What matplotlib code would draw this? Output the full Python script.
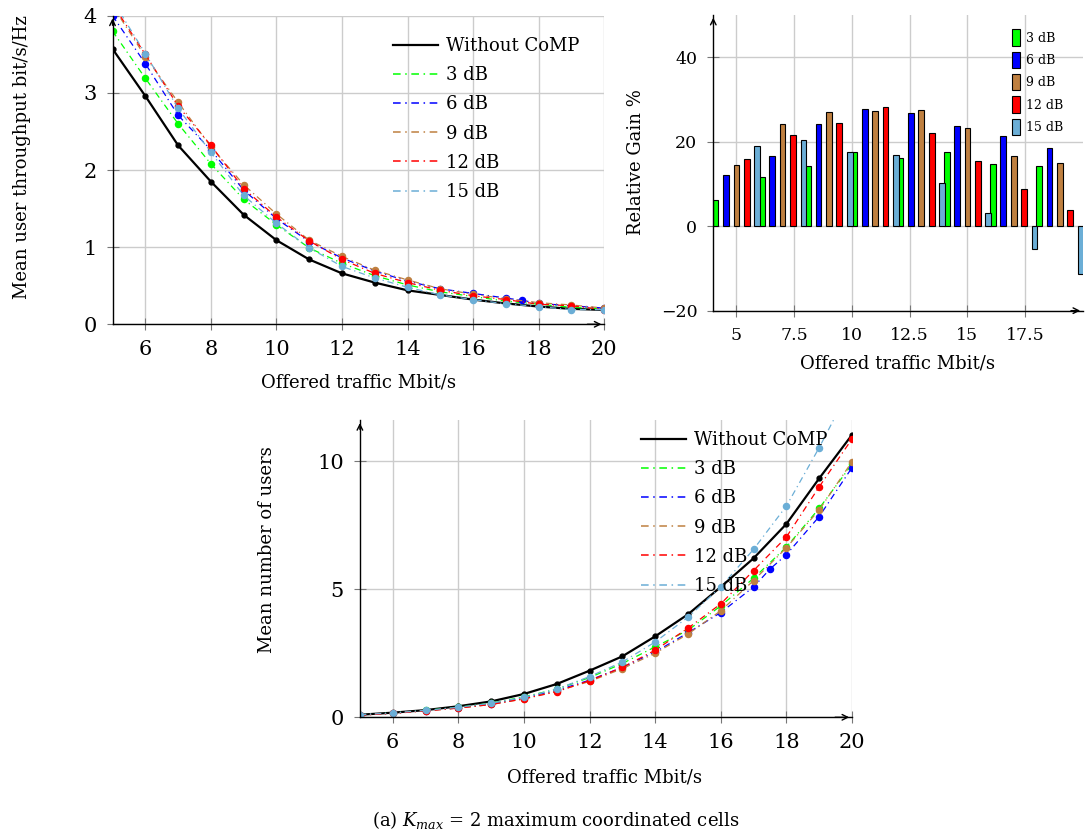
import matplotlib
matplotlib.use("Agg")
import matplotlib.pyplot as plt
from matplotlib.lines import Line2D

plt.rcParams["font.family"] = "DejaVu Serif"
plt.rcParams["mathtext.fontset"] = "dejavuserif"

# colours / labels of the CoMP thresholds
series_labels = ["3 dB", "6 dB", "9 dB", "12 dB", "15 dB"]
series_colors = ["#00ff00", "#0000ff", "#bf8040", "#ff0000", "#6baed6"]

# offered traffic (Mbit/s); the 6 dB run has an extra point at 17.5
traffic = [5, 6, 7, 8, 9, 10, 11, 12, 13, 14, 15, 16, 17, 18, 19, 20]
traffic_6db = [5, 6, 7, 8, 9, 10, 11, 12, 13, 14, 15, 16, 17, 17.5, 18, 19, 20]

# mean user throughput bit/s/Hz
thr_nocomp = [3.57, 2.96, 2.32, 1.85, 1.42, 1.09, 0.84, 0.66, 0.54, 0.44, 0.38, 0.32, 0.27, 0.23, 0.20, 0.186]
thr_3db = [3.80, 3.19, 2.60, 2.08, 1.62, 1.29, 0.99, 0.79, 0.63, 0.51, 0.42, 0.36, 0.30, 0.26, 0.22, 0.20]
thr_6db = [4.00, 3.38, 2.71, 2.26, 1.74, 1.37, 1.07, 0.86, 0.69, 0.56, 0.46, 0.40, 0.34, 0.31, 0.27, 0.24, 0.21]
thr_9db = [4.13, 3.47, 2.88, 2.30, 1.81, 1.43, 1.09, 0.88, 0.70, 0.575, 0.46, 0.39, 0.33, 0.28, 0.25, 0.21]
thr_12db = [4.15, 3.50, 2.83, 2.32, 1.76, 1.39, 1.08, 0.84, 0.66, 0.54, 0.44, 0.37, 0.32, 0.26, 0.24, 0.19]
thr_15db = [4.20, 3.51, 2.80, 2.23, 1.67, 1.31, 0.99, 0.75, 0.60, 0.48, 0.38, 0.32, 0.265, 0.23, 0.19, 0.19]

# relative gain % (bar groups)
gain_traffic = [5, 7, 9, 11, 13, 15, 17, 19]
gain_3db = [6.3, 11.7, 14.2, 17.6, 16.2, 17.6, 14.7, 14.3]
gain_6db = [12.0, 16.7, 24.3, 27.7, 26.7, 23.6, 21.3, 18.6]
gain_9db = [14.6, 24.1, 27.1, 27.3, 27.6, 23.3, 16.7, 15.0]
gain_12db = [15.9, 21.5, 24.4, 28.1, 22.1, 15.4, 8.8, 3.9]
gain_15db = [18.9, 20.3, 17.5, 16.9, 10.3, 3.2, -5.5, -11.3]

# mean number of users
users_nocomp = [0.10, 0.18, 0.28, 0.43, 0.62, 0.91, 1.30, 1.82, 2.38, 3.16, 4.02, 5.09, 6.21, 7.55, 9.33, 11.03]
users_3db = [0.10, 0.17, 0.27, 0.39, 0.55, 0.80, 1.10, 1.55, 2.10, 2.75, 3.40, 4.35, 5.43, 6.65, 8.16, 9.88]
users_6db = [0.10, 0.16, 0.26, 0.37, 0.52, 0.75, 1.05, 1.45, 1.95, 2.55, 3.30, 4.09, 5.09, 5.79, 6.35, 7.84, 9.75]
users_9db = [0.10, 0.16, 0.25, 0.36, 0.50, 0.72, 1.02, 1.40, 1.90, 2.50, 3.25, 4.16, 5.34, 6.62, 8.10, 9.98]
users_12db = [0.08, 0.15, 0.25, 0.36, 0.50, 0.72, 1.00, 1.43, 1.95, 2.62, 3.48, 4.43, 5.73, 7.04, 9.00, 10.87]
users_15db = [0.10, 0.17, 0.27, 0.39, 0.55, 0.78, 1.10, 1.59, 2.16, 2.94, 3.91, 5.09, 6.56, 8.25, 10.53, 13.0]

DASHDOT = (0, (5, 3, 1, 3))


def style_axes(ax, ticksize):
    ax.spines["top"].set_visible(False)
    ax.spines["right"].set_visible(False)
    ax.spines["left"].set_linewidth(1.0)
    ax.spines["bottom"].set_linewidth(1.0)
    ax.grid(True, color="#cccccc", lw=1.0)
    ax.set_axisbelow(True)
    ax.tick_params(direction="inout", length=9, width=0.8, color="#777777",
                   labelsize=ticksize, pad=7)
    ax.annotate("", xy=(1.0, 0), xytext=(0.96, 0), xycoords="axes fraction",
                arrowprops=dict(arrowstyle="->", lw=1.0, color="black"))
    ax.annotate("", xy=(0, 1.0), xytext=(0, 0.96), xycoords="axes fraction",
                arrowprops=dict(arrowstyle="->", lw=1.0, color="black"))


def legend_handles():
    h = [Line2D([], [], color="black", lw=1.6)]
    for c in series_colors:
        h.append(Line2D([], [], color=c, lw=1.1, ls=DASHDOT))
    return h


fig = plt.figure(figsize=(10.87, 8.36), dpi=100)

# ---------- top left: throughput ----------
ax1 = fig.add_axes([0.1035, 0.6121, 0.4524, 0.3691])
ax1.plot(traffic, thr_nocomp, color="black", lw=1.6, marker="o", ms=3.5)
thr_x = [traffic, traffic_6db, traffic, traffic, traffic]
thr_y = [thr_3db, thr_6db, thr_9db, thr_12db, thr_15db]
for xs, ys, c in zip(thr_x, thr_y, series_colors):
    ax1.plot(xs, ys, color=c, lw=0.9, ls=DASHDOT, marker="o", ms=4.4)
ax1.set_xlim(5, 20)
ax1.set_ylim(0, 4)
ax1.set_xticks([6, 8, 10, 12, 14, 16, 18, 20])
ax1.set_yticks([0, 1, 2, 3, 4])
style_axes(ax1, 15)
ax1.set_xlabel("Offered traffic Mbit/s", fontsize=13)
ax1.set_ylabel("Mean user throughput bit/s/Hz", fontsize=13)
ax1.xaxis.set_label_coords(0.5, -0.158)
ax1.yaxis.set_label_coords(-0.166, 0.542)
ax1.legend(legend_handles(), ["Without CoMP"] + series_labels, loc="upper left",
           bbox_to_anchor=(393 / 1087, 1 - 37 / 836), bbox_transform=fig.transFigure,
           frameon=False, fontsize=13, handlelength=2.5, handletextpad=0.45,
           labelspacing=0.62, borderpad=0, borderaxespad=0)

# ---------- top right: relative gain ----------
ax2 = fig.add_axes([0.6562, 0.6284, 0.3401, 0.3537])
gains = [gain_3db, gain_6db, gain_9db, gain_12db, gain_15db]
offsets = [-0.9, -0.45, 0, 0.45, 0.9]
for g, off, c, lab in zip(gains, offsets, series_colors, series_labels):
    ax2.bar([t + off for t in gain_traffic], g, width=0.25, color=c,
            edgecolor="black", lw=0.8, label=lab)
ax2.set_xlim(4, 20)
ax2.set_ylim(-20, 50)
ax2.set_xticks([5, 7.5, 10, 12.5, 15, 17.5])
ax2.set_xticklabels(["5", "7.5", "10", "12.5", "15", "17.5"])
ax2.set_yticks([-20, 0, 20, 40])
style_axes(ax2, 12.5)
ax2.set_xlabel("Offered traffic Mbit/s", fontsize=13)
ax2.set_ylabel("Relative Gain %", fontsize=13)
ax2.xaxis.set_label_coords(0.497, -0.148)
ax2.yaxis.set_label_coords(-0.185, 0.501)
ax2.legend(loc="upper left", bbox_to_anchor=(1011.7 / 1087, 1 - 29.3 / 836),
           bbox_transform=fig.transFigure, frameon=False, fontsize=9,
           handlelength=0.66, handleheight=1.66, handletextpad=0.45,
           labelspacing=0.46, borderpad=0, borderaxespad=0)

# ---------- bottom: number of users ----------
ax3 = fig.add_axes([0.3311, 0.1420, 0.4527, 0.3553])
ax3.plot(traffic, users_nocomp, color="black", lw=1.6, marker="o", ms=3.5)
users_x = [traffic, traffic_6db, traffic, traffic, traffic]
users_y = [users_3db, users_6db, users_9db, users_12db, users_15db]
for xs, ys, c in zip(users_x, users_y, series_colors):
    ax3.plot(xs, ys, color=c, lw=0.9, ls=DASHDOT, marker="o", ms=4.4)
ax3.set_xlim(5, 20)
ax3.set_ylim(0, 11.6)
ax3.set_xticks([6, 8, 10, 12, 14, 16, 18, 20])
ax3.set_yticks([0, 5, 10])
style_axes(ax3, 15)
ax3.set_xlabel("Offered traffic Mbit/s", fontsize=13)
ax3.set_ylabel("Mean number of users", fontsize=13)
ax3.xaxis.set_label_coords(0.497, -0.172)
ax3.yaxis.set_label_coords(-0.170, 0.563)
ax3.legend(legend_handles(), ["Without CoMP"] + series_labels, loc="upper left",
           bbox_to_anchor=(641 / 1087, 1 - 431 / 836), bbox_transform=fig.transFigure,
           frameon=False, fontsize=13, handlelength=2.5, handletextpad=0.45,
           labelspacing=0.62, borderpad=0, borderaxespad=0)

fig.text(0.511, 0.019, r"(a) $K_{max}$ = 2 maximum coordinated cells",
         ha="center", va="center", fontsize=13)

fig.savefig("out.png", dpi=100)
